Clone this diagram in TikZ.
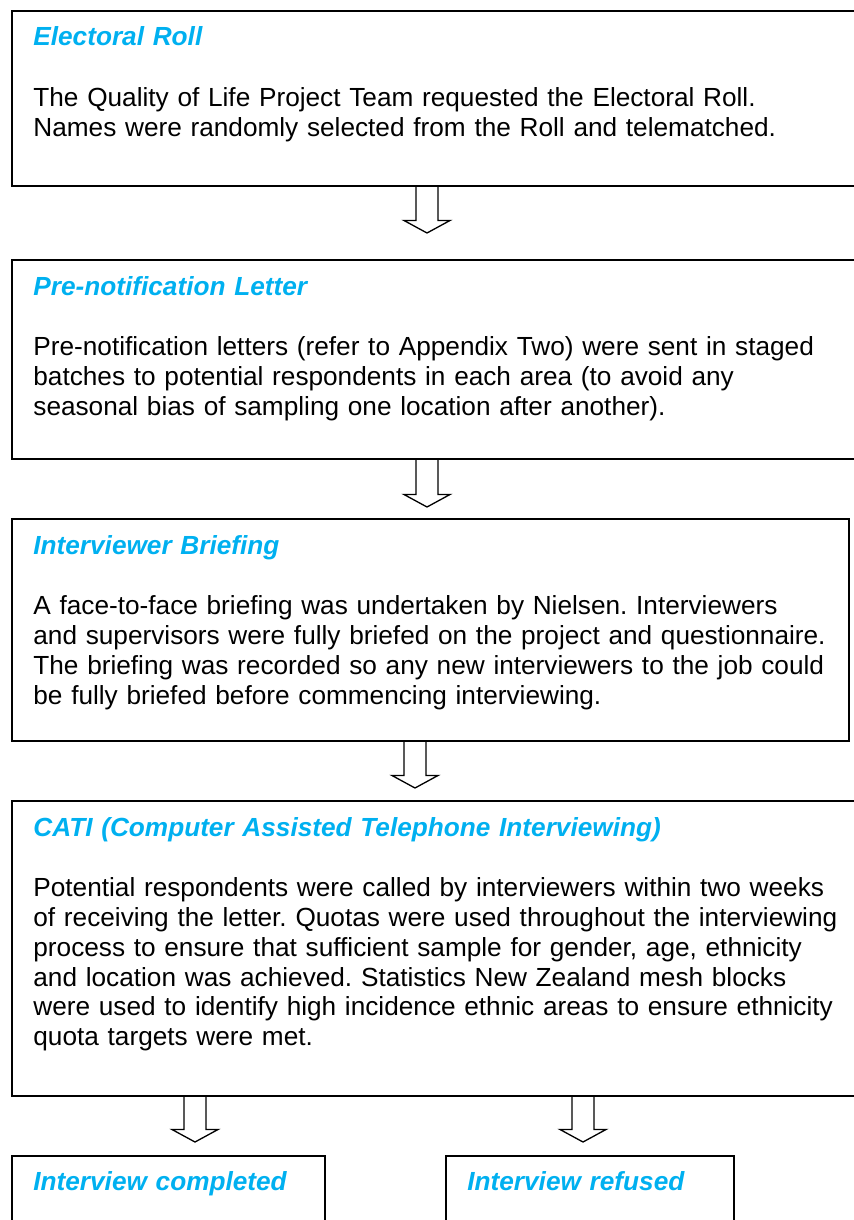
\documentclass[tikz,border=0pt]{standalone}
\usepackage{fontspec}
\setmainfont{Liberation Sans}
\usepackage{xcolor}
\usetikzlibrary{calc}

\definecolor{headblue}{RGB}{0,176,240}
\frenchspacing

% heading of a stage, bold italic blue
\newcommand{\stagetitle}[1]{{\color{headblue}\bfseries\itshape #1}}
% hollow down arrow from box #1 towards box #2, at x = #3, tip #4 above #2
\newcommand{\blockarrow}[4]{%
  \coordinate (tip) at ($(#3,0 |- #2.north)+(0,-#4)$);
  \draw[hollow] (#3-11,0 |- #1.south) -- ($(tip)+(-11,-12.5)$) -- ($(tip)+(-23,-12.5)$)
    -- (tip) -- ($(tip)+(23,-12.5)$) -- ($(tip)+(11,-12.5)$) -- (#3+11,0 |- #1.south);
}

\begin{document}
\begin{tikzpicture}[x=0.5pt,y=-0.5pt,
  stage/.style={draw,line width=1pt,rectangle,inner sep=0pt,anchor=north west},
  stagetext/.style={anchor=base west,inner sep=0pt,text width=420pt,align=left,
    font=\fontsize{13.1}{14.85}\selectfont},
  hollow/.style={draw,line width=0.65pt,line join=miter}]
\useasboundingbox (0,0) rectangle (854,1220);

% boxes
\node[stage,minimum width=429.5pt,minimum height=87.5pt] (roll) at (11,10) {};
\node[stage,minimum width=429.5pt,minimum height=99.5pt] (letter) at (11,259) {};
\node[stage,minimum width=418.5pt,minimum height=111pt] (briefing) at (11,518) {};
\node[stage,minimum width=429.5pt,minimum height=147.5pt] (cati) at (11,800) {};
\node[stage,minimum width=156.5pt,minimum height=60pt] (completed) at (11,1155) {};
\node[stage,minimum width=144pt,minimum height=60pt] (refused) at (445,1155) {};

% texts
\node[stagetext] (roll-text) at ($(roll.north west)+(22,36)$) {%
  \stagetitle{Electoral Roll}\par\vspace{15.6pt}
  The Quality of Life Project Team requested the Electoral Roll.\\
  Names were randomly selected from the Roll and telematched.};
\node[stagetext] (letter-text) at ($(letter.north west)+(22,36)$) {%
  \stagetitle{Pre-notification Letter}\par\vspace{15.6pt}
  Pre-notification letters (refer to Appendix Two) were sent in staged\\
  batches to potential respondents in each area (to avoid any\\
  seasonal bias of sampling one location after another).};
\node[stagetext] (briefing-text) at ($(briefing.north west)+(22,36)$) {%
  \stagetitle{Interviewer Briefing}\par\vspace{15.6pt}
  A face-to-face briefing was undertaken by Nielsen. Interviewers\\
  and supervisors were fully briefed on the project and questionnaire.\\
  The briefing was recorded so any new interviewers to the job could\\
  be fully briefed before commencing interviewing.};
\node[stagetext] (cati-text) at ($(cati.north west)+(22,36)$) {%
  \stagetitle{CATI (Computer Assisted Telephone Interviewing)}\par\vspace{15.6pt}
  Potential respondents were called by interviewers within two weeks\\
  of receiving the letter. Quotas were used throughout the interviewing\\
  process to ensure that sufficient sample for gender, age, ethnicity\\
  and location was achieved. Statistics New Zealand mesh blocks\\
  were used to identify high incidence ethnic areas to ensure ethnicity\\
  quota targets were met.};
\node[stagetext] (completed-text) at ($(completed.north west)+(22,35)$) {\stagetitle{Interview completed}};
\node[stagetext] (refused-text) at ($(refused.north west)+(22,35)$) {\stagetitle{Interview refused}};

% arrows
\blockarrow{roll}{letter}{427}{26}
\blockarrow{letter}{briefing}{427}{11}
\blockarrow{briefing}{cati}{415}{12}
\blockarrow{cati}{completed}{195}{13}
\blockarrow{cati}{refused}{583}{13}
\end{tikzpicture}
\end{document}
